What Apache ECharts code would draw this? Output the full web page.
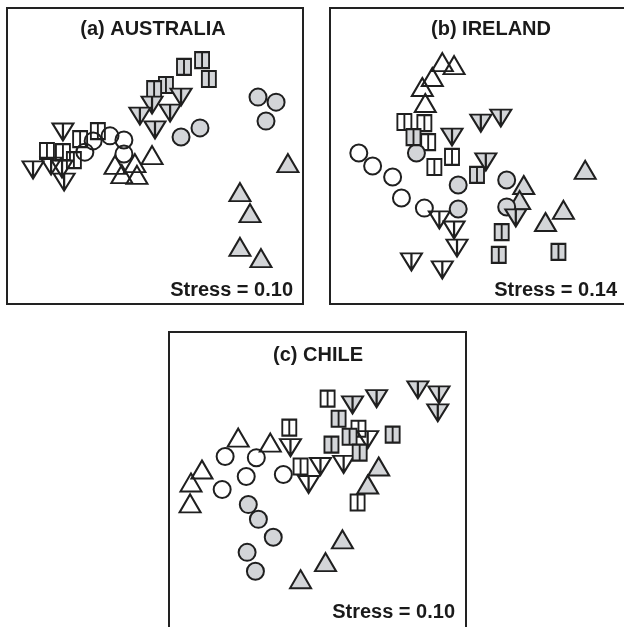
<!DOCTYPE html>
<html>
<head>
<meta charset="utf-8">
<script src="https://cdn.jsdelivr.net/npm/echarts@6/dist/echarts.min.js"></script>
<style>
  html, body { margin: 0; padding: 0; background: #fff; }
  #chart { width: 624px; height: 627px; }
</style>
</head>
<body>
<div id="chart"></div>
<script>
// NMDS ordination scores (axis 1, axis 2), rescaled to 0–100 within each panel.
const panelTitles = ['(a) AUSTRALIA', '(b) IRELAND', '(c) CHILE'];
const stressValues = ['0.10', '0.14', '0.10'];

// (a) Australia
const ausOpenUp     = [[49.0,50.3],[36.5,47.0],[43.2,47.6],[38.8,43.9],[43.9,43.6]];
const ausGreyUp     = [[94.9,47.6],[78.7,37.8],[82.1,30.7],[78.7,19.3],[85.8,15.5]];
const ausOpenCircle = [[26.3,51.3],[29.1,55.1],[34.8,56.8],[39.5,55.4],[39.5,50.7]];
const ausGreyCircle = [[58.8,56.4],[65.2,59.5],[84.8,69.9],[90.9,68.2],[87.5,61.8]];
const ausOpenSquare = [[13.5,51.7],[18.9,51.3],[24.7,55.7],[30.7,58.4],[22.6,48.6]];
const ausGreySquare = [[59.8,80.1],[65.9,82.4],[68.2,76.0],[53.7,74.0],[49.7,72.6]];
const ausOpenDown   = [[18.9,58.1],[8.8,45.3],[14.9,46.6],[18.6,45.6],[19.3,41.2]];
const ausGreyDown   = [[58.8,69.9],[49.0,67.2],[44.9,63.5],[55.1,64.5],[50.0,58.8]];

// (b) Ireland
const ireOpenUp     = [[38.2,81.7],[42.2,80.7],[34.8,76.7],[31.4,73.3],[32.4,67.9]];
const ireGreyUp     = [[86.8,45.3],[65.9,40.2],[64.5,35.1],[79.4,31.8],[73.3,27.7]];
const ireOpenCircle = [[9.8,51.0],[14.5,46.6],[21.3,42.9],[24.3,35.8],[32.1,32.4]];
const ireGreyCircle = [[29.4,51.0],[43.6,40.2],[43.6,32.1],[60.1,41.9],[60.1,32.8]];
const ireOpenSquare = [[25.3,61.5],[32.1,61.1],[33.4,54.7],[41.5,49.7],[35.5,46.3]];
const ireGreySquare = [[28.4,56.4],[50.0,43.6],[58.4,24.3],[57.4,16.6],[77.7,17.6]];
const ireOpenDown   = [[37.2,28.4],[42.2,25.0],[43.2,18.9],[27.7,14.2],[38.2,11.5]];
const ireGreyDown   = [[51.3,61.1],[58.1,62.8],[41.5,56.4],[53.0,48.0],[63.2,29.1]];

// (c) Chile
const chiOpenUp     = [[23.3,64.2],[34.1,62.5],[11.1,53.4],[7.4,49.0],[7.1,41.9]];
const chiGreyUp     = [[70.6,54.4],[66.9,48.3],[58.4,29.7],[52.7,22.0],[44.3,16.2]];
const chiOpenCircle = [[18.9,57.8],[29.4,57.4],[26.0,51.0],[38.5,51.7],[17.9,46.6]];
const chiGreyCircle = [[26.7,41.5],[30.1,36.5],[35.1,30.4],[26.3,25.3],[29.1,18.9]];
const chiOpenSquare = [[53.4,77.4],[40.5,67.6],[63.8,67.2],[44.3,54.4],[63.5,42.2]];
const chiGreySquare = [[57.1,70.6],[54.7,61.8],[60.8,64.5],[64.2,59.1],[75.3,65.2]];
const chiOpenDown   = [[40.9,60.8],[51.0,54.4],[58.8,55.1],[47.0,48.3],[66.9,63.5]];
const chiGreyDown   = [[61.8,75.3],[69.9,77.4],[83.8,80.4],[90.9,78.7],[90.5,72.6]];

const panelData = [
  [ausOpenUp, ausGreyUp, ausOpenCircle, ausGreyCircle, ausOpenSquare, ausGreySquare, ausOpenDown, ausGreyDown],
  [ireOpenUp, ireGreyUp, ireOpenCircle, ireGreyCircle, ireOpenSquare, ireGreySquare, ireOpenDown, ireGreyDown],
  [chiOpenUp, chiGreyUp, chiOpenCircle, chiGreyCircle, chiOpenSquare, chiGreySquare, chiOpenDown, chiGreyDown]
];

// Marker styles for the eight sample groups (same order as the arrays above).
const INK = '#1f1f1f';
const GREY = '#d3d5d8';
const NOFILL = 'rgba(255,255,255,0)';
const UP = 'path://M10,0L20,17L0,17Z';
const DOWN = 'path://M0,0L20,0L10,17Z M10,0L10,17';
const SQUARE = 'path://M0,0L14,0L14,15L0,15Z M7,0L7,15';
const groupStyles = [
  { symbol: UP, size: [21, 18], fill: NOFILL },
  { symbol: UP, size: [21, 18], fill: GREY },
  { symbol: 'circle', size: 17, fill: NOFILL },
  { symbol: 'circle', size: 17, fill: GREY },
  { symbol: SQUARE, size: [14, 16], fill: NOFILL },
  { symbol: SQUARE, size: [14, 16], fill: GREY },
  { symbol: DOWN, size: [21, 17], fill: NOFILL },
  { symbol: DOWN, size: [21, 17], fill: GREY }
];
// draw order: open symbols first, filled ones above
const drawOrder = [0, 2, 4, 6, 1, 3, 5, 7];

// Panel frames in page pixels
const frames = [
  { left: 7,   top: 8,   width: 296, height: 296 },
  { left: 330, top: 8,   width: 297, height: 296 },
  { left: 169, top: 332, width: 297, height: 296 }
];
// frame borders (panel (b) and (c) run past the page edge)
const frameBoxes = [
  { left: 7,   top: 8,   width: 296, height: 296 },
  { left: 330, top: 8,   width: 305, height: 296 },
  { left: 169, top: 332, width: 297, height: 305 }
];
const titlePos = [[153, 29], [491, 29], [318, 355]];
const stressPos = [[293, 290], [617, 290], [455, 612]];

const grids = frames.map((f, i) => ({
  left: f.left, top: f.top, width: f.width, height: f.height,
  show: false, containLabel: false
}));
const axisCommon = { min: 0, max: 100, show: false, type: 'value' };
const xAxes = frames.map((f, i) => Object.assign({ gridIndex: i }, axisCommon));
const yAxes = frames.map((f, i) => Object.assign({ gridIndex: i }, axisCommon));

const series = [];
panelData.forEach((groups, p) => {
  drawOrder.forEach(g => {
    const st = groupStyles[g];
    series.push({
      type: 'scatter',
      xAxisIndex: p, yAxisIndex: p,
      data: groups[g],
      symbol: st.symbol,
      symbolSize: st.size,
      itemStyle: { color: st.fill, borderColor: INK, borderWidth: 2, opacity: 1 },
      emphasis: { disabled: true },
      silent: true,
      animation: false
    });
  });
});

const FONT = '"Liberation Sans", Arial, Helvetica, sans-serif';
const graphics = [];
frameBoxes.forEach(b => {
  graphics.push({
    type: 'rect', z: 90, silent: true,
    shape: { x: b.left, y: b.top, width: b.width, height: b.height },
    style: { fill: 'none', stroke: '#222', lineWidth: 2 }
  });
});
panelTitles.forEach((t, i) => {
  graphics.push({
    type: 'text', x: titlePos[i][0], y: titlePos[i][1], z: 100,
    style: { text: t, font: 'bold 20px ' + FONT, fill: '#1a1a1a', align: 'center', verticalAlign: 'middle' }
  });
  graphics.push({
    type: 'text', x: stressPos[i][0], y: stressPos[i][1], z: 100,
    style: { text: 'Stress = ' + stressValues[i], font: 'bold 20px ' + FONT, fill: '#1a1a1a', align: 'right', verticalAlign: 'middle' }
  });
});

const chart = echarts.init(document.getElementById('chart'), null, { renderer: 'canvas' });
chart.setOption({
  animation: false,
  backgroundColor: '#fff',
  grid: grids,
  xAxis: xAxes,
  yAxis: yAxes,
  series: series,
  graphic: graphics
});
</script>
</body>
</html>
